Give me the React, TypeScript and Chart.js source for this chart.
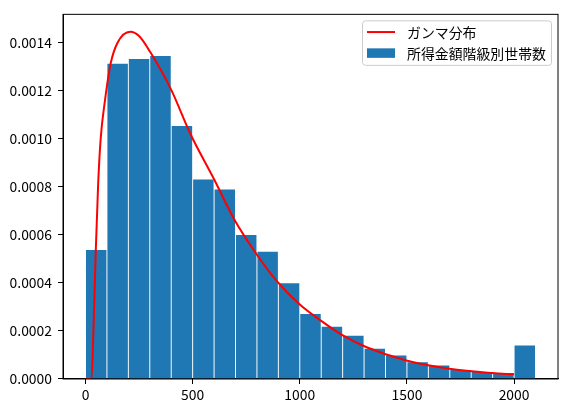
import React, { useEffect, useRef } from "react";
import { Chart, registerables } from "chart.js";

Chart.register(...registerables);

// Histogram bins (bin centres) and densities
const binCenters = [50, 150, 250, 350, 450, 550, 650, 750, 850, 950, 1050, 1150, 1250, 1350, 1450, 1550, 1650, 1750, 1850, 1950, 2050];
const binValues = [0.000537, 0.001311, 0.001331, 0.001344, 0.001052, 0.00083, 0.000788, 0.000599, 0.000529, 0.000398, 0.00027, 0.000217, 0.00018, 0.000126, 0.0000975, 0.00007, 0.0000563, 0.000037, 0.0000288, 0.0000247, 0.000139];

// Gamma curve points
const curveX = [0, 28, 39, 48, 59, 71, 90, 117, 150, 209, 250, 303, 399, 492, 600, 693, 801, 894, 1000, 1095, 1203, 1312, 1497, 1698, 1899, 2000];
const curveY = [0, 0, 0.000262, 0.000536, 0.00081, 0.001002, 0.001153, 0.001311, 0.0014, 0.001445, 0.001427, 0.001359, 0.001205, 0.001015, 0.000831, 0.000666, 0.000516, 0.000406, 0.00031, 0.000245, 0.00018, 0.000132, 0.000077, 0.0000428, 0.0000247, 0.0000193];

const xTicks = [0, 500, 1000, 1500, 2000];
const yTicks = [0, 0.0002, 0.0004, 0.0006, 0.0008, 0.001, 0.0012, 0.0014];

const lineLabel = "ガンマ分布";
const barLabel = "所得金額階級別世帯数";

const FONT = '"Noto Sans CJK JP", "Noto Sans", sans-serif';

const framePlugin = {
  id: "frameAndLegend",
  afterDraw(chart: any) {
    const { ctx, chartArea } = chart;
    ctx.save();
    ctx.strokeStyle = "#000";
    ctx.lineWidth = 1;
    ctx.strokeRect(chartArea.left, chartArea.top, chartArea.right - chartArea.left, chartArea.bottom - chartArea.top);

    // matplotlib-like legend box
    const bx = chartArea.right - 195.5;
    const by = chartArea.top + 6.5;
    const bw = 189;
    const bh = 44.5;
    const r = 3;
    ctx.beginPath();
    ctx.moveTo(bx + r, by);
    ctx.lineTo(bx + bw - r, by);
    ctx.quadraticCurveTo(bx + bw, by, bx + bw, by + r);
    ctx.lineTo(bx + bw, by + bh - r);
    ctx.quadraticCurveTo(bx + bw, by + bh, bx + bw - r, by + bh);
    ctx.lineTo(bx + r, by + bh);
    ctx.quadraticCurveTo(bx, by + bh, bx, by + bh - r);
    ctx.lineTo(bx, by + r);
    ctx.quadraticCurveTo(bx, by, bx + r, by);
    ctx.closePath();
    ctx.fillStyle = "rgba(255,255,255,0.8)";
    ctx.fill();
    ctx.strokeStyle = "#cccccc";
    ctx.stroke();

    const ds = chart.data.datasets;
    const lineDs = ds[0];
    const barDs = ds[1];
    const hx = bx + 4.5;
    const hw = 28;
    // line handle
    ctx.beginPath();
    ctx.strokeStyle = lineDs.borderColor;
    ctx.lineWidth = 2;
    ctx.moveTo(hx, by + 11.2);
    ctx.lineTo(hx + hw, by + 11.2);
    ctx.stroke();
    // bar handle
    ctx.fillStyle = barDs.backgroundColor;
    ctx.fillRect(hx, by + 27.5, hw, 9.5);

    ctx.fillStyle = "#000";
    ctx.font = `13.9px ${FONT}`;
    ctx.textBaseline = "middle";
    ctx.textAlign = "left";
    ctx.fillText(lineDs.label, bx + 44.5, by + 11.5);
    ctx.fillText(barDs.label, bx + 44.5, by + 32.5);
    ctx.restore();
  },
};

export default function App() {
  const ref = useRef<HTMLCanvasElement | null>(null);

  useEffect(() => {
    if (!ref.current) return;
    const chart = new Chart(ref.current, {
      type: "bar",
      data: {
        datasets: [
          {
            type: "line",
            label: lineLabel,
            data: curveX.map((x, i) => ({ x, y: curveY[i] })),
            borderColor: "#ff0000",
            backgroundColor: "#ff0000",
            borderWidth: 2,
            pointRadius: 0,
            cubicInterpolationMode: "monotone",
            fill: false,
            order: 0,
          } as any,
          {
            type: "bar",
            label: barLabel,
            data: binCenters.map((x, i) => ({ x, y: binValues[i] })),
            backgroundColor: "#1f77b4",
            borderWidth: 0,
            barPercentage: 0.955,
            categoryPercentage: 1,
            order: 1,
          } as any,
        ],
      },
      options: {
        animation: false,
        responsive: false,
        devicePixelRatio: 1,
        layout: { padding: { left: 0, top: 10, right: 9, bottom: 0 } },
        plugins: {
          legend: { display: false },
          tooltip: { enabled: false },
        },
        scales: {
          x: {
            type: "linear",
            min: -105,
            max: 2205,
            offset: false,
            afterBuildTicks: (scale: any) => {
              scale.ticks = xTicks.map((v) => ({ value: v }));
            },
            afterFit: (scale: any) => {
              scale.height = 33;
            },
            ticks: {
              color: "#000",
              font: { family: FONT, size: 13.9 },
              padding: 2,
              maxRotation: 0,
              callback: (v: any) => String(v),
            },
            grid: { offset: false, drawOnChartArea: false, drawTicks: true, tickLength: 5, color: "#000" },
            border: { display: true, color: "#000", width: 1 },
          },
          y: {
            type: "linear",
            min: 0,
            max: 0.001517,
            afterBuildTicks: (scale: any) => {
              scale.ticks = yTicks.map((v) => ({ value: v }));
            },
            afterFit: (scale: any) => {
              scale.width = 63;
            },
            ticks: {
              color: "#000",
              font: { family: FONT, size: 13.9 },
              padding: 6,
              callback: (v: any) => Number(v).toFixed(4),
            },
            grid: { drawOnChartArea: false, drawTicks: true, tickLength: 5, color: "#000" },
            border: { display: true, color: "#000", width: 1 },
          },
        },
      },
      plugins: [framePlugin],
    });
    return () => chart.destroy();
  }, []);

  return (
    <div style={{ position: "fixed", left: 0, top: 0, width: 567, height: 412, background: "#fff" }}>
      <canvas ref={ref} width={567} height={412} />
    </div>
  );
}
